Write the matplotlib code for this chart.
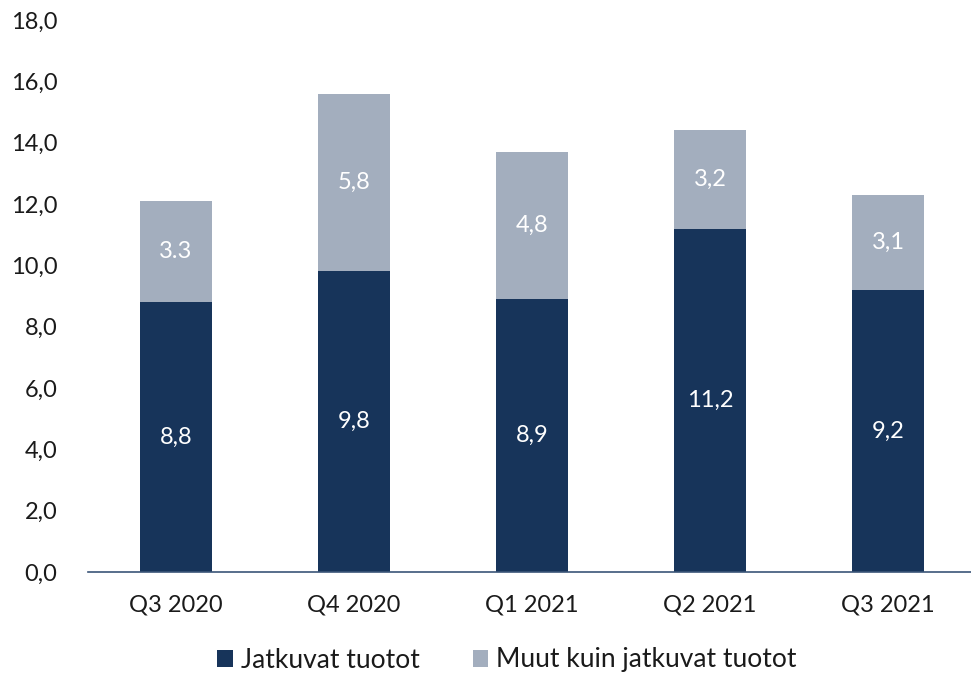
import matplotlib.pyplot as plt
import numpy as np

quarters = ['Q3 2020', 'Q4 2020', 'Q1 2021', 'Q2 2021', 'Q3 2021']
jatkuvat = [8.8, 9.8, 8.9, 11.2, 9.2]
muut = [3.3, 5.8, 4.8, 3.2, 3.1]
yticks = [0, 2, 4, 6, 8, 10, 12, 14, 16, 18]

dark = '#17345a'
light = '#a3aebe'

plt.rcParams['font.family'] = ['Lato', 'DejaVu Sans']

fig = plt.figure(figsize=(9.71, 6.77), dpi=100)
ax = fig.add_axes([88 / 971, 105 / 677, 1 - 88 / 971, 552 / 677])

x = np.arange(len(quarters))
w = 0.4
b1 = ax.bar(x, jatkuvat, w, color=dark, label='Jatkuvat tuotot')
b2 = ax.bar(x, muut, w, bottom=jatkuvat, color=light, label='Muut kuin jatkuvat tuotot')

for i in range(len(quarters)):
    ax.text(x[i], jatkuvat[i] / 2, f'{jatkuvat[i]:.1f}'.replace('.', ','),
            ha='center', va='center', color='white', fontsize=17)
    lab = f'{muut[i]:.1f}'
    if i != 0:
        lab = lab.replace('.', ',')
    ax.text(x[i], jatkuvat[i] + muut[i] / 2, lab,
            ha='center', va='center', color='white', fontsize=17)

ax.set_xlim(-0.494, 4.466)
ax.set_ylim(0, 18)
ax.set_yticks(yticks)
ax.set_yticklabels([f'{v:.1f}'.replace('.', ',') for v in yticks], fontsize=17, color='#1a1a1a')
ax.set_xticks(x)
ax.set_xticklabels(quarters, fontsize=17, color='#1a1a1a')
ax.tick_params(axis='both', length=0)
ax.tick_params(axis='x', pad=16)
ax.tick_params(axis='y', pad=22)
for s in ['top', 'right', 'left']:
    ax.spines[s].set_visible(False)
ax.spines['bottom'].set_color('#3b5578')
ax.spines['bottom'].set_linewidth(1.2)

leg = fig.legend(handles=[b1, b2], loc='center', bbox_to_anchor=(507 / 971, 1 - 660 / 677),
                 ncol=2, frameon=False, fontsize=19, handlelength=0.6, handleheight=0.6,
                 handletextpad=0.3, columnspacing=2.0)
for t in leg.get_texts():
    t.set_color('#1a1a1a')

fig.savefig('out.png', dpi=100)
